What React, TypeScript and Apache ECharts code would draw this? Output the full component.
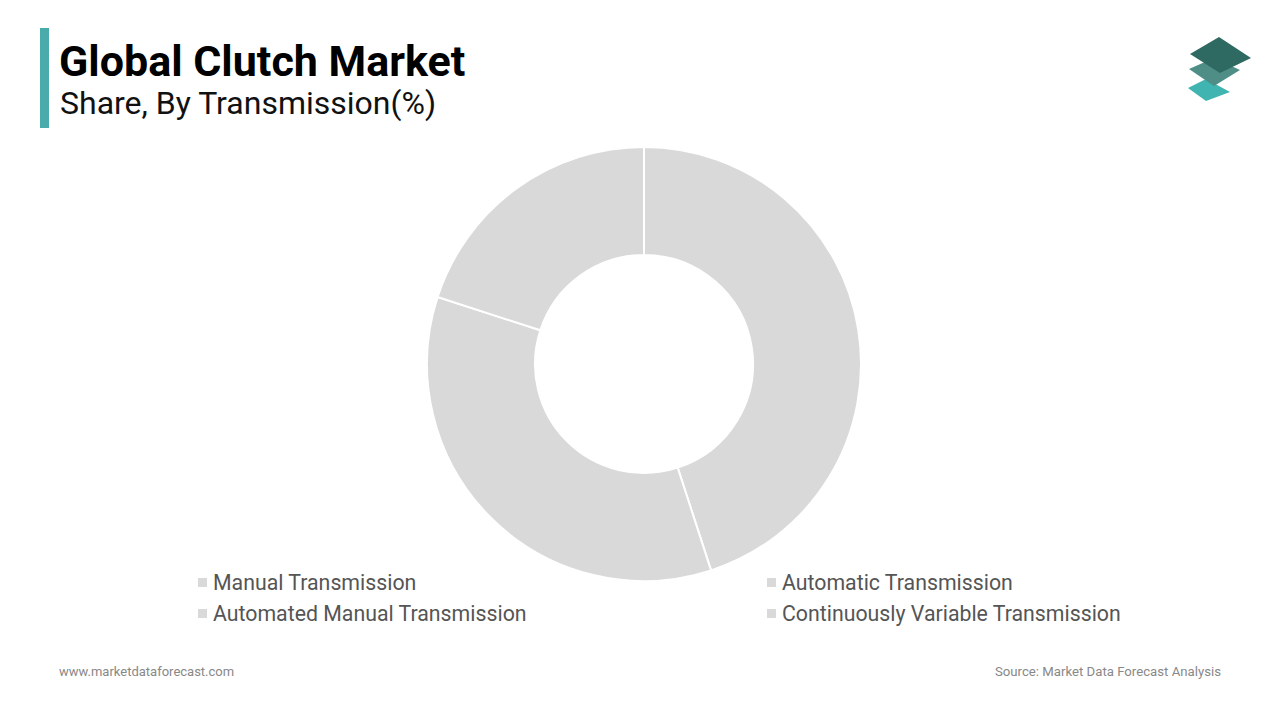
import React, { useEffect, useRef } from "react";
import * as echarts from "echarts";

const categories = [
  "Manual Transmission",
  "Automatic Transmission",
  "Automated Manual Transmission",
  "Continuously Variable Transmission",
];
const shares = [45, 35, 20, 0];
const title = "Global Clutch Market";
const subtitle = "Share, By Transmission(%)";
const website = "www.marketdataforecast.com";
const source = "Source: Market Data Forecast Analysis";

export default function App() {
  const ref = useRef<HTMLDivElement>(null);
  useEffect(() => {
    if (!ref.current) return;
    const chart = echarts.init(ref.current, null, { renderer: "svg" });
    const font = "Roboto, 'Noto Sans', sans-serif";
    const legendText = { color: "#555", fontSize: 21.3, fontFamily: font };
    chart.setOption({
      animation: false,
      backgroundColor: "#ffffff",
      color: ["#d9d9d9", "#d9d9d9", "#d9d9d9", "#d9d9d9"],
      legend: [
        {
          data: [categories[0], categories[2]],
          orient: "vertical",
          left: 191,
          top: 567,
          itemWidth: 11,
          itemHeight: 11,
          itemGap: 10,
          icon: "rect",
          textStyle: legendText,
          selectedMode: false,
        },
        {
          data: [categories[1], categories[3]],
          orient: "vertical",
          left: 760,
          top: 567,
          itemWidth: 11,
          itemHeight: 11,
          itemGap: 10,
          icon: "rect",
          textStyle: legendText,
          selectedMode: false,
        },
      ],
      series: [
        {
          type: "pie",
          center: [644, 364],
          radius: [109, 217],
          startAngle: 90,
          clockwise: true,
          label: { show: false },
          labelLine: { show: false },
          itemStyle: { borderColor: "#ffffff", borderWidth: 2 },
          emphasis: { disabled: true },
          data: categories.map((name, i) => ({ name, value: shares[i] })),
        },
      ],
      graphic: [
        { type: "rect", shape: { x: 40, y: 28, width: 9, height: 100 }, style: { fill: "#4aabab" } },
        {
          type: "text",
          x: 59,
          y: 61,
          style: { text: title, font: `bold 43px ${font}`, fill: "#000", verticalAlign: "middle" },
        },
        {
          type: "text",
          x: 60,
          y: 103,
          style: { text: subtitle, font: `32px ${font}`, fill: "#111", verticalAlign: "middle" },
        },
        {
          type: "polygon",
          shape: { points: [[1188, 88], [1206, 79], [1230, 92], [1206, 101]] },
          style: { fill: "#3fb4b0" },
        },
        {
          type: "polygon",
          shape: { points: [[1189, 69], [1214, 58], [1240, 70], [1214, 86]] },
          style: { fill: "#4f8d87" },
        },
        {
          type: "polygon",
          shape: { points: [[1190, 54], [1219, 37], [1251, 58], [1220, 73]] },
          style: { fill: "#2f6a62" },
        },
        {
          type: "text",
          x: 59,
          y: 671,
          style: { text: website, font: `13px ${font}`, fill: "#888", verticalAlign: "middle" },
        },
        {
          type: "text",
          x: 1221,
          y: 671,
          style: { text: source, font: `13.2px ${font}`, fill: "#888", verticalAlign: "middle", align: "right" },
        },
      ],
    });
    return () => chart.dispose();
  }, []);
  return <div ref={ref} style={{ position: "fixed", left: 0, top: 0, width: 1280, height: 720 }} />;
}
